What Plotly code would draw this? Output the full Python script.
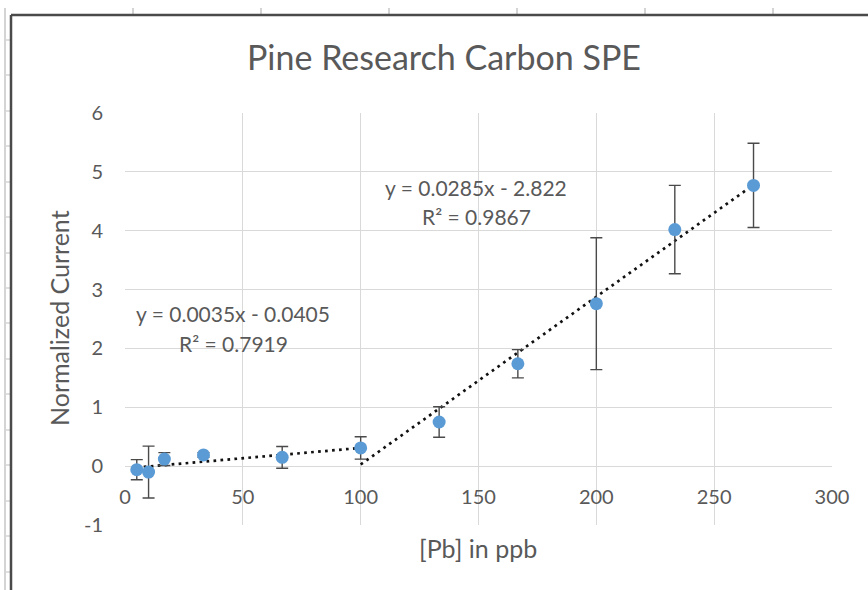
import plotly.graph_objects as go

# ---------------- data ----------------
pb_ppb = [5, 10, 16.7, 33.3, 66.7, 100, 133.3, 166.7, 200, 233.3, 266.7]
norm_current = [-0.06, -0.10, 0.12, 0.19, 0.15, 0.31, 0.75, 1.74, 2.76, 4.02, 4.77]
current_err = [0.17, 0.44, 0.11, 0.04, 0.185, 0.19, 0.26, 0.24, 1.12, 0.75, 0.715]

# trendline coefficients (from the chart's trendline labels)
low_slope, low_intercept = 0.0035, -0.0405
low_range = [5, 100]
low_label = ["y = 0.0035x - 0.0405", "R² = 0.7919"]

high_slope, high_intercept = 0.0285, -2.822
high_range = [100, 266.7]
high_label = ["y = 0.0285x - 2.822", "R² = 0.9867"]

x_ticks = [0, 50, 100, 150, 200, 250, 300]
y_ticks = [-1, 0, 1, 2, 3, 4, 5, 6]

title_text = "Pine Research Carbon SPE"
x_title = "[Pb] in ppb"
y_title = "Normalized Current"

# ---------------- style ----------------
FONT = "Lato"
TXT = "#595959"
GRID = "#d9d9d9"
W, H = 868, 590
L, R, T, B = 125, 36, 113, 65
PW, PH = W - L - R, H - T - B


def px_x(p):
    return (p - L) / PW


def px_y(p):
    return (H - B - p) / PH


fig = go.Figure()

# trendlines
for slope, icpt, rng in [(low_slope, low_intercept, low_range),
                         (high_slope, high_intercept, high_range)]:
    fig.add_trace(go.Scatter(
        x=rng, y=[slope * v + icpt for v in rng], mode="lines",
        line=dict(color="#111111", width=2.7, dash="2.7px,4.3px"),
        hoverinfo="skip", showlegend=False))

# data points with error bars
fig.add_trace(go.Scatter(
    x=pb_ppb, y=norm_current, mode="markers",
    marker=dict(color="#5b9bd5", size=13),
    error_y=dict(type="data", array=current_err, visible=True,
                 color="#4a4a4a", thickness=1.4, width=6),
    showlegend=False))

annotations = []
# trendline labels
for lbl, (cx, cy1, cy2) in [(low_label, (233, 313, 343)),
                             (high_label, (476, 187, 216))]:
    for txt, cy in zip(lbl, (cy1, cy2)):
        annotations.append(dict(
            text=txt, xref="paper", yref="paper", x=px_x(cx), y=px_y(cy),
            xanchor="center", yanchor="middle", showarrow=False,
            font=dict(family=FONT, size=21, color=TXT)))

# axis titles
annotations.append(dict(text=x_title, xref="paper", yref="paper",
                        x=px_x(478), y=px_y(548), xanchor="center", yanchor="middle",
                        showarrow=False, font=dict(family=FONT, size=25, color=TXT)))
annotations.append(dict(text=y_title, xref="paper", yref="paper",
                        x=px_x(59), y=px_y(318), xanchor="center", yanchor="middle",
                        textangle=-90, showarrow=False,
                        font=dict(family=FONT, size=25, color=TXT)))

# spreadsheet / chart frame decoration
shapes = []
sheet = "#d4d4d4"
shapes.append(dict(type="line", xref="paper", yref="paper",
                   x0=px_x(5), x1=px_x(5), y0=px_y(8), y1=px_y(600),
                   line=dict(color=sheet, width=2)))
for ry in [40, 75, 111, 146, 182, 217, 253, 288, 323, 359, 394, 430, 465, 501, 536, 572]:
    shapes.append(dict(type="line", xref="paper", yref="paper",
                       x0=px_x(5), x1=px_x(10), y0=px_y(ry), y1=px_y(ry),
                       line=dict(color=sheet, width=1.5)))
for cx in [133, 261, 389, 517, 645, 773]:
    shapes.append(dict(type="line", xref="paper", yref="paper",
                       x0=px_x(cx), x1=px_x(cx), y0=px_y(8), y1=px_y(15),
                       line=dict(color=sheet, width=2)))
shapes.append(dict(type="line", xref="paper", yref="paper",
                   x0=px_x(11), x1=px_x(900), y0=px_y(15), y1=px_y(15),
                   line=dict(color="#4a4a4a", width=2.5)))
shapes.append(dict(type="line", xref="paper", yref="paper",
                   x0=px_x(11), x1=px_x(11), y0=px_y(15), y1=px_y(620),
                   line=dict(color="#4a4a4a", width=2.5)))

fig.update_layout(
    width=W, height=H,
    margin=dict(l=L, r=R, t=T, b=B, autoexpand=False),
    paper_bgcolor="white", plot_bgcolor="white",
    font=dict(family=FONT, color=TXT),
    title=dict(text=title_text, x=px_x(444), xref="paper", xanchor="center",
               y=1 - 58 / H, yref="container", yanchor="middle",
               font=dict(family=FONT, size=34, color=TXT)),
    annotations=annotations, shapes=shapes,
    xaxis=dict(range=[0, 300], tickvals=x_ticks, ticktext=[str(v) for v in x_ticks],
               showgrid=True, gridcolor=GRID, gridwidth=1.3, zeroline=False,
               showline=False, anchor="free", position=1 / 7,
               ticks="outside", ticklen=13, tickcolor="rgba(0,0,0,0)",
               tickfont=dict(family=FONT, size=20, color=TXT)),
    yaxis=dict(range=[-1, 6], tickvals=y_ticks, ticktext=[str(v) for v in y_ticks],
               showgrid=True, gridcolor=GRID, gridwidth=1.3, zeroline=False,
               showline=False, ticks="outside", ticklen=17,
               tickcolor="rgba(0,0,0,0)",
               tickfont=dict(family=FONT, size=20, color=TXT)),
)

fig.write_html("out.html", config={"displayModeBar": False},
               post_script="document.body.style.margin='0px';document.body.style.overflow='hidden';")
